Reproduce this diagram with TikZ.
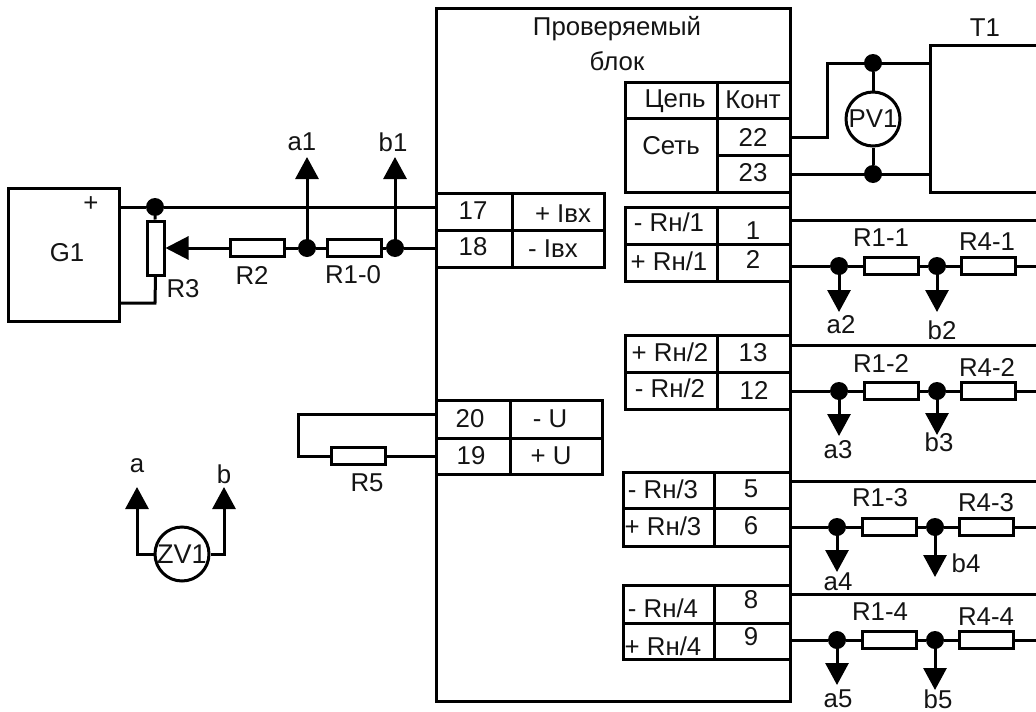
\documentclass[tikz,border=0pt]{standalone}
\usepackage{fontspec}
\setmainfont{Liberation Sans}
\usetikzlibrary{arrows.meta}
\tikzset{
  every picture/.style={x=1pt,y=-1pt,line width=3pt},
  lab/.style={inner sep=0pt,font=\fontsize{25.8}{27}\selectfont,text=black!92},
  res/.style={draw,rectangle,fill=white,minimum width=54pt,minimum height=17pt,inner sep=0pt},
  dot/.style={circle,fill=black,minimum size=18pt,inner sep=0pt,outer sep=0pt},
  meter/.style={draw,circle,fill=white,minimum size=54pt,inner sep=0pt,font=\fontsize{25.8}{27}\selectfont,text=black!92},
  tap/.style={-{Triangle[length=22pt,width=23pt]}},
  wire/.style={line cap=butt}
}
% #1 id, #2 y of upper wire, #3 y of main wire, #4 dx, #5 tip a, #6 tip b
\newcommand\chan[6]{%
  \coordinate (up#1) at (790,#2);
  \coordinate (upe#1) at (1036,#2);
  \coordinate (m#1) at (790,#3);
  \coordinate (me#1) at (1036,#3);
  \coordinate (ta#1) at (839+#4,#5);
  \coordinate (tb#1) at (937+#4,#6);
  \node[dot] (da#1) at (839+#4,#3) {};
  \node[dot] (db#1) at (937+#4,#3) {};
  \node[res] (ra#1) at (891+#4,#3) {};
  \node[res] (rb#1) at (988+#4,#3) {};
  \draw[wire] (up#1) -- (upe#1);
  \draw[wire] (m#1) -- (da#1) -- (ra#1) -- (db#1) -- (rb#1) -- (me#1);
  \draw[tap] (da#1.center) -- (ta#1);
  \draw[tap] (db#1.center) -- (tb#1);
}
\begin{document}
\begin{tikzpicture}
\useasboundingbox (0,0) rectangle (1036,712);
% main block
\node[draw,rectangle,minimum width=354pt,minimum height=693pt,inner sep=0pt] (block) at (613,354.5) {};
\node[lab] (title1) at (617,29) {Проверяемый};
\node[lab] (title2) at (617,61) {блок};

% G1 section
\node[draw,rectangle,minimum width=111pt,minimum height=133pt,inner sep=0pt] (g1) at (63.5,254.5) {};
\node[lab] (plus) at (91,204) {+};
\node[lab] (g1t) at (67,253) {G1};
\coordinate (gp) at (119,207);
\coordinate (gm) at (119,303);
\coordinate (p17) at (436,207);
\coordinate (p18) at (436,248);
\node[dot] (d0) at (155,207) {};
\node[draw,rectangle,fill=white,minimum width=17pt,minimum height=54pt,inner sep=0pt] (r3) at (155.5,248) {};
\node[res] (r2) at (257,248) {};
\node[res] (r10) at (354,248) {};
\node[dot] (j1) at (307,248) {};
\node[dot] (j2) at (395,248) {};
\coordinate (ta1) at (307,157);
\coordinate (tb1) at (395,157);
\coordinate (gc) at (155,303);
\draw[wire] (gp) -- (d0) -- (p17);
\draw[wire] (d0) -- (r3);
\draw[wire] (r3.south) -- (gc) -- (gm);
\draw[wire] (p18) -- (j2) -- (r10) -- (j1) -- (r2);
\draw[-{Triangle[length=23pt,width=23pt]}] (r2.west) -- (r3.east);
\draw[tap] (j1.center) -- (ta1);
\draw[tap] (j2.center) -- (tb1);
\node[lab] (a1) at (302,142) {a1};
\node[lab] (b1) at (393,142) {b1};
\node[lab] (r2t) at (252,275) {R2};
\node[lab] (r10t) at (353,275) {R1-0};
\node[lab] (r3t) at (183,289) {R3};

% table 17/18
\draw (436,193) rectangle (604,267);
\draw (436,230) -- (604,230);
\draw (512,193) -- (512,267);
\node[lab] (n17) at (473,211) {17};
\node[lab] (n18) at (473,247) {18};
\node[lab] (t17) at (563,214) {+ Iвх};
\node[lab] (t18) at (553,249) {- Iвх};

% table 20/19
\draw (436,400) rectangle (602,474);
\draw (436,438) -- (602,438);
\draw (510,400) -- (510,474);
\node[lab] (n20) at (470,419) {20};
\node[lab] (n19) at (471,456) {19};
\node[lab] (t20) at (550,419) {- U};
\node[lab] (t19) at (551,456) {+ U};
\coordinate (p20) at (436,414);
\coordinate (p19) at (436,456);
\coordinate (lp1) at (298,414);
\coordinate (lp2) at (298,456);
\node[res] (r5) at (358,456) {};
\draw[wire] (p20) -- (lp1) -- (lp2) -- (r5) -- (p19);
\node[lab] (r5t) at (367,483) {R5};

% ZV1
\node[meter,font=\fontsize{27}{28}\selectfont] (zv) at (182,554) {ZV1};
\coordinate (zl) at (137,554);
\coordinate (zr) at (224,554);
\coordinate (zla) at (137,487);
\coordinate (zra) at (224,487);
\draw[tap] (zv) -- (zl) -- (zla);
\draw[tap] (zv) -- (zr) -- (zra);
\node[lab] (la) at (137,466) {a};
\node[lab] (lb) at (224,474) {b};

% Table mains
\draw (625,82) rectangle (790,192);
\draw (625,118) -- (790,118);
\draw (717,82) -- (717,192);
\draw (717,155) -- (790,155);
\node[lab] (c1) at (675,101) {Цепь};
\node[lab] (c2) at (753,100) {Конт};
\node[lab] (c3) at (671,146) {Сеть};
\node[lab] (n22) at (753,137) {22};
\node[lab] (n23) at (753,173) {23};

% T1
\coordinate (t1a) at (1036,45);
\coordinate (t1b) at (930,45);
\coordinate (t1c) at (930,192);
\coordinate (t1d) at (1036,192);
\draw (t1a) -- (t1b) -- (t1c) -- (t1d);
\node[lab] (t1t) at (985,28) {T1};
\coordinate (p22) at (790,137);
\coordinate (p23) at (790,174);
\coordinate (w1) at (827,137);
\coordinate (w2) at (827,63);
\coordinate (t11) at (930,63);
\coordinate (t12) at (930,174);
\node[dot] (d22) at (873,63) {};
\node[dot] (d23) at (873,174) {};
\node[meter] (pv) at (873,119) {PV1};
\draw[wire] (p22) -- (w1) -- (w2) -- (t11);
\draw[wire] (p23) -- (t12);
\draw[wire] (d22) -- (pv);
\draw[wire] (pv) -- (d23);

% tables Rн
\draw (625,207) rectangle (790,281);
\draw (625,244) -- (790,244);
\draw (717,207) -- (717,281);
\draw (625,335) rectangle (790,409);
\draw (625,372) -- (790,372);
\draw (717,335) -- (717,409);
\draw (623,472) rectangle (790,546);
\draw (623,508) -- (790,508);
\draw (714,472) -- (714,546);
\draw (623,585) rectangle (790,659);
\draw (623,623) -- (790,623);
\draw (714,585) -- (714,659);

\node[lab] (k1) at (669,222) {- Rн/1};
\node[lab] (k2) at (669,261) {+ Rн/1};
\node[lab] (n1) at (753,231) {1};
\node[lab] (n2) at (753,259) {2};
\node[lab] (k3) at (670,352) {+ Rн/2};
\node[lab] (k4) at (670,388) {- Rн/2};
\node[lab] (n13) at (753,353) {13};
\node[lab] (n12) at (754,390) {12};
\node[lab] (k5) at (663,489) {- Rн/3};
\node[lab] (k6) at (663,526) {+ Rн/3};
\node[lab] (n5) at (751,489) {5};
\node[lab] (n6) at (751,526) {6};
\node[lab] (k7) at (663,608) {- Rн/4};
\node[lab] (k8) at (663,646) {+ Rн/4};
\node[lab] (n8) at (751,600) {8};
\node[lab] (n9) at (751,637) {9};

% channels
\chan{c1}{220}{266}{0}{312}{312}
\chan{c2}{345}{391}{0}{436}{435}
\chan{c3}{481}{527}{-2}{572}{577}
\chan{c4}{594}{640}{-2}{685}{690}

\node[lab] (l11) at (881,238) {R1-1};
\node[lab] (l12) at (987,242) {R4-1};
\node[lab] (a2) at (841,325) {a2};
\node[lab] (b2) at (942,330) {b2};
\node[lab] (l21) at (881,363) {R1-2};
\node[lab] (l22) at (987,367) {R4-2};
\node[lab] (a3) at (838,450) {a3};
\node[lab] (b3) at (939,442) {b3};
\node[lab] (l31) at (880,498) {R1-3};
\node[lab] (l32) at (986,503) {R4-3};
\node[lab] (a4) at (838,582) {a4};
\node[lab] (b4) at (966,563) {b4};
\node[lab] (l41) at (880,612) {R1-4};
\node[lab] (l42) at (986,617) {R4-4};
\node[lab] (a5) at (838,699) {a5};
\node[lab] (b5) at (938,699) {b5};
\end{tikzpicture}
\end{document}
